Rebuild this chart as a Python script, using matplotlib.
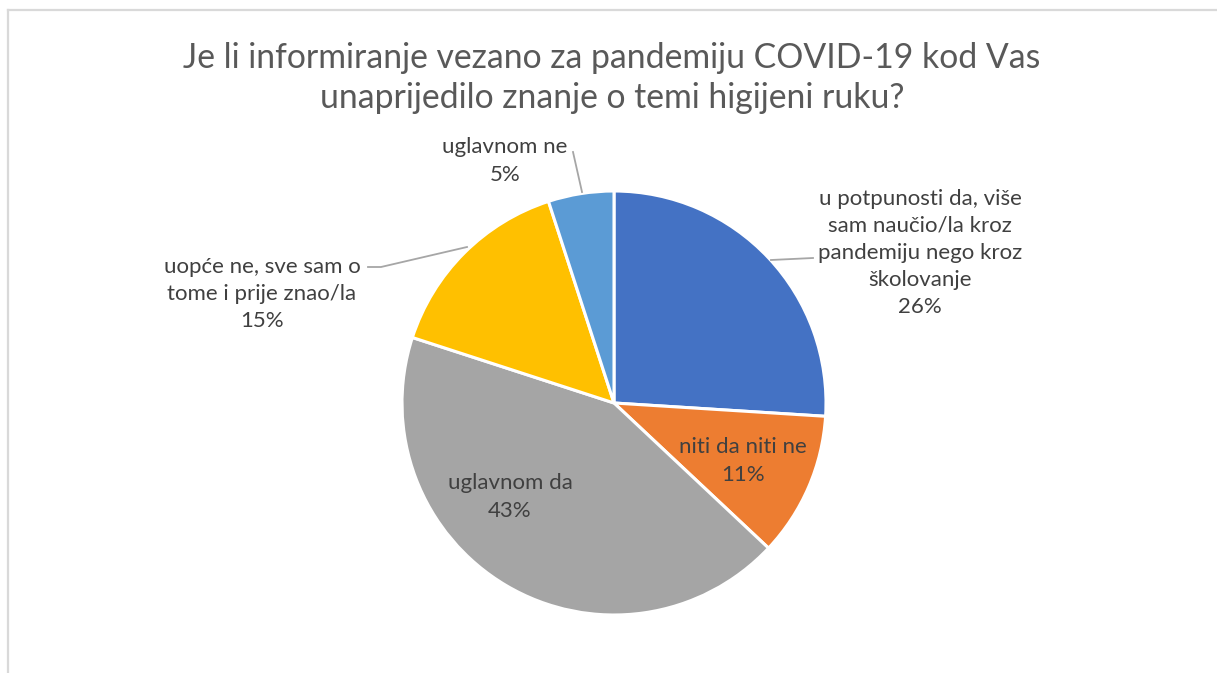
"""Pie chart: hand-hygiene knowledge after COVID-19 information."""

import matplotlib

matplotlib.use("Agg")
import matplotlib.pyplot as plt
from matplotlib.lines import Line2D

plt.rcParams["font.family"] = ["Lato", "DejaVu Sans"]

W, H = 1217, 673

categories = [
    "u potpunosti da, više\nsam naučio/la kroz\npandemiju nego kroz\nškolovanje",
    "niti da niti ne",
    "uglavnom da",
    "uopće ne, sve sam o\ntome i prije znao/la",
    "uglavnom ne",
]
shares = [26, 11, 43, 15, 5]
colors = ["#4472C4", "#ED7D31", "#A5A5A5", "#FFC000", "#5B9BD5"]

TEXT = "#404040"
TITLE = "#595959"
LEADER = "#A6A6A6"


def py(y):
    # pixel row (from top) -> data y
    return H - y


fig = plt.figure(figsize=(W / 100, H / 100), dpi=100)
fig.patch.set_facecolor("white")
ax = fig.add_axes([0, 0, 1, 1])

ax.pie(
    shares,
    colors=colors,
    startangle=90,
    counterclock=False,
    center=(614, py(403)),
    radius=212,
    wedgeprops={"edgecolor": "white", "linewidth": 2.2},
)
ax.set_xlim(0, W)
ax.set_ylim(0, H)
ax.set_aspect("auto")
ax.axis("off")

# label positions (pixel centres) and leader lines
label_pos = [(920, 253), (743, 461), (510, 497), (262, 294), (505, 161)]
for cat, val, (x, y) in zip(categories, shares, label_pos):
    ax.text(
        x,
        py(y),
        f"{cat}\n{val}%",
        ha="center",
        va="center",
        fontsize=16,
        color=TEXT,
        linespacing=1.45,
    )

leaders = [
    [(771, 260), (813, 258)],
    [(368, 267), (381, 267), (467, 247)],
    [(573, 152), (582, 192)],
]
for pts in leaders:
    ax.plot([p[0] for p in pts], [py(p[1]) for p in pts], color=LEADER, linewidth=1.3)

ax.text(
    612,
    py(78),
    "Je li informiranje vezano za pandemiju COVID-19 kod Vas\nunaprijedilo znanje o temi higijeni ruku?",
    ha="center",
    va="center",
    fontsize=24.3,
    color=TITLE,
    linespacing=1.3,
)

# chart-area border (only top and left visible in the crop)
fig.add_artist(Line2D([8 / W, 8 / W], [0, 1 - 9.5 / H], transform=fig.transFigure,
                      color="#D9D9D9", linewidth=1.6))
fig.add_artist(Line2D([8 / W, 1], [1 - 9.5 / H, 1 - 9.5 / H], transform=fig.transFigure,
                      color="#D9D9D9", linewidth=1.6))

fig.savefig("out.png", dpi=100, facecolor="white")
